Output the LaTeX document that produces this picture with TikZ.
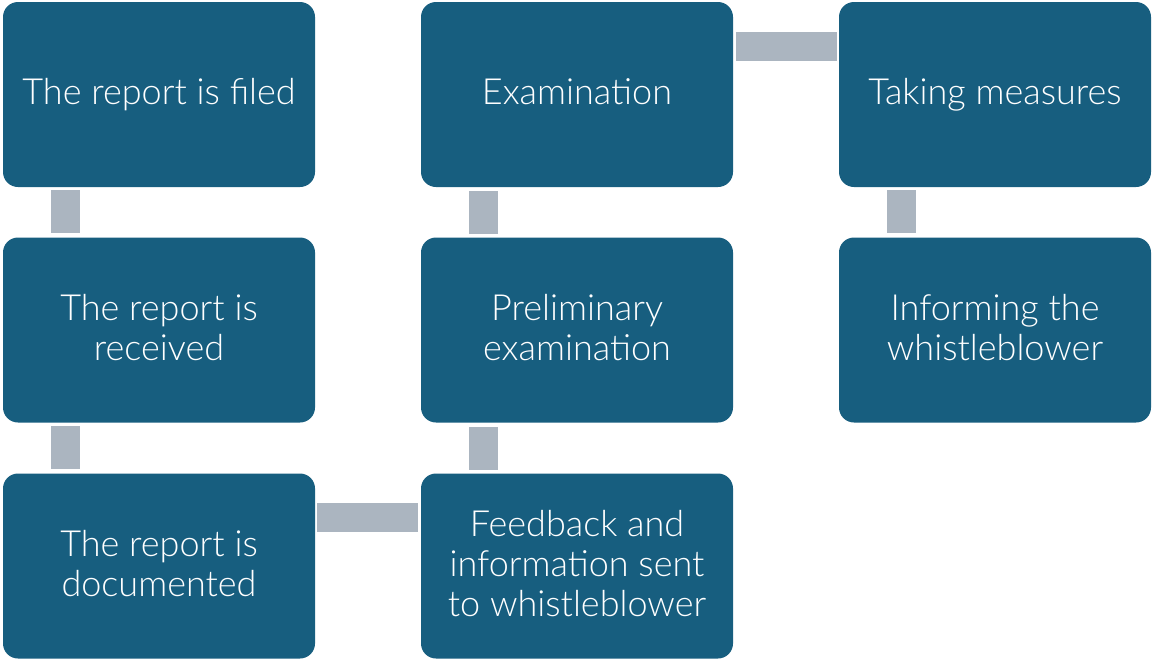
\documentclass[tikz,border=0pt]{standalone}
\usepackage{fontspec}
\setmainfont{Lato}[UprightFont={* Light}]
\definecolor{boxblue}{RGB}{23,94,127}
\definecolor{linkgray}{RGB}{171,181,192}
% a tall strut opening the first line, and the usual strut closing the last
\newcommand\firstline{\rule{0pt}{32pt}}
\begin{document}
\begin{tikzpicture}[x=1pt,y=-1pt,
  stepbox/.style={fill=boxblue, draw=none, rounded corners=15pt, minimum width=312pt, minimum height=185pt,
    text=white, align=center, inner sep=0pt, font=\fontsize{36}{40}\selectfont},
  link/.style={fill=linkgray, draw=none}]
\useasboundingbox (0,0) rectangle (1152,659);
% boxes, column by column
\node[stepbox] (filed)    at (159,94.5)  {\firstline The report is filed\strut};
\node[stepbox] (received) at (159,330)   {\firstline The report is\\received\strut};
\node[stepbox] (documented) at (159,566) {\firstline The report is\\documented\strut};
\node[stepbox] (exam)     at (577,94.5)  {\firstline Examination\strut};
\node[stepbox] (prelim)   at (577,330)   {\firstline Preliminary\\examination\strut};
\node[stepbox] (feedback) at (577,566)   {\firstline Feedback and\\information sent\\to whistleblower\strut};
\node[stepbox] (measures) at (995,94.5)  {\firstline Taking measures\strut};
\node[stepbox] (inform)   at (995,330)   {\firstline Informing the\\whistleblower\strut};
% grey link bars between the steps (shifts are in page units: positive yshift is upward)
\fill[link] ([xshift=-108pt,yshift=-3pt]filed.south) rectangle ([xshift=-79pt,yshift=4pt]received.north);
\fill[link] ([xshift=-108pt,yshift=-3pt]received.south) rectangle ([xshift=-79pt,yshift=4pt]documented.north);
\fill[link] ([xshift=2pt,yshift=-30pt]documented.north east) rectangle ([xshift=-3pt,yshift=-59pt]feedback.north west);
\fill[link] ([xshift=-108pt,yshift=3pt]feedback.north) rectangle ([xshift=-79pt,yshift=-4pt]prelim.south);
\fill[link] ([xshift=-108pt,yshift=3pt]prelim.north) rectangle ([xshift=-79pt,yshift=-4pt]exam.south);
\fill[link] ([xshift=3pt,yshift=-30pt]exam.north east) rectangle ([xshift=-2pt,yshift=-59pt]measures.north west);
\fill[link] ([xshift=-108pt,yshift=-3pt]measures.south) rectangle ([xshift=-79pt,yshift=4pt]inform.north);
\end{tikzpicture}
\end{document}
